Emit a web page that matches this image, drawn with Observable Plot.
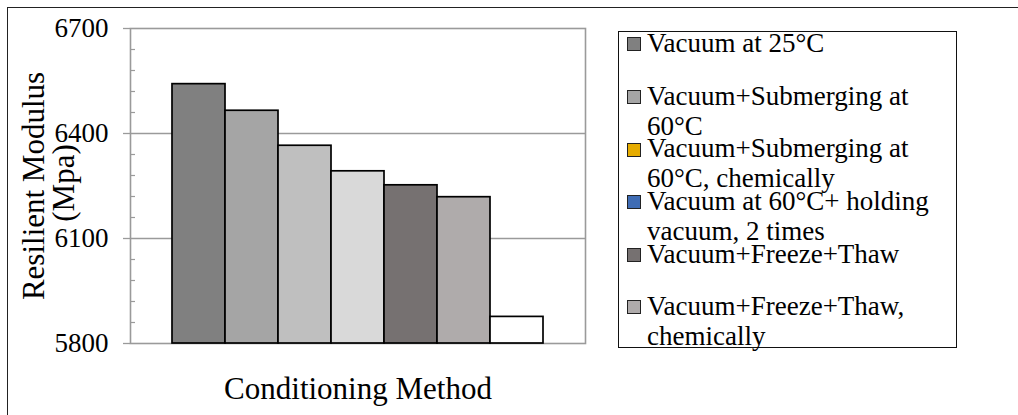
<!DOCTYPE html>
<html>
<head>
<meta charset="utf-8">
<script src="https://cdn.jsdelivr.net/npm/d3@7"></script>
<script src="https://cdn.jsdelivr.net/npm/@observablehq/plot@0.6"></script>
<style>
  html, body { margin: 0; padding: 0; background: #fff; }
  #wrap { position: relative; width: 1018px; height: 415px; overflow: hidden; font-family: "Liberation Serif", "Times New Roman", serif; }
  #outer { position: absolute; left: 7px; top: 7px; width: 1030px; height: 430px; border-top: 1.5px solid #222; border-left: 1.5px solid #222; box-sizing: border-box; pointer-events: none; }
  #legend { position: absolute; left: 618px; top: 31px; width: 339px; height: 317px; border: 1.5px solid #111; box-sizing: border-box; }
  .item { position: absolute; left: 627px; width: 330px; }
  .sw { position: absolute; left: 0; width: 14px; height: 14px; border: 1.5px solid #222; box-sizing: border-box; }
  .lbl { position: absolute; left: 20px; width: 300px; font-size: 27px; line-height: 30px; color: #000; white-space: normal; }
</style>
</head>
<body>
<div id="wrap">
  <div id="chart"></div>
  <div id="outer"></div>
  <div id="legend"></div>
</div>
<script>
// ---- data ----
const methods = [
  "Vacuum at 25°C",
  "Vacuum+Submerging at 60°C",
  "Vacuum+Submerging at 60°C, chemically",
  "Vacuum at 60°C+ holding vacuum, 2 times",
  "Vacuum+Freeze+Thaw",
  "Vacuum+Freeze+Thaw, chemically",
  "Other"
];
const modulus = [6541, 6465, 6365, 6292, 6252, 6218, 5876];
const yTicks = [5800, 6100, 6400, 6700];
const yMinorTicks = [5860, 5920, 5980, 6040, 6160, 6220, 6280, 6340, 6460, 6520, 6580, 6640];
const legendLabels = [
  "Vacuum at 25°C",
  "Vacuum+Submerging at 60°C",
  "Vacuum+Submerging at 60°C, chemically",
  "Vacuum at 60°C+ holding vacuum, 2 times",
  "Vacuum+Freeze+Thaw",
  "Vacuum+Freeze+Thaw, chemically"
];
const yTitleLines = ["Resilient Modulus", "(Mpa)"];
const xTitle = "Conditioning Method";

// ---- styles ----
const barColors = ["#808080", "#a5a5a5", "#bfbfbf", "#d9d9d9", "#767171", "#afabab", "#ffffff"];
const legendColors = ["#808080", "#a5a5a5", "#e6ac00", "#3f6cb4", "#767171", "#afabab"];

const data = methods.map((m, i) => ({method: m, value: modulus[i]}));

const chart = Plot.plot({
  width: 1018,
  height: 415,
  marginLeft: 130,
  marginRight: 433,
  marginTop: 28,
  marginBottom: 72,
  style: {fontFamily: "'Liberation Serif', 'Times New Roman', serif", fontSize: "27px", color: "#000", background: "transparent", overflow: "visible"},
  x: {domain: methods, paddingInner: 0, paddingOuter: 0.75, axis: null},
  y: {domain: [5800, 6700], axis: null},
  color: {domain: methods, range: barColors},
  marks: [
    Plot.gridY([6100, 6400], {stroke: "#9a9a9a", strokeOpacity: 1, strokeWidth: 1.3}),
    Plot.frame({stroke: "#9a9a9a", strokeWidth: 1.6}),
    Plot.barY(data, {x: "method", y1: 5800, y2: "value", fill: "method", stroke: "#000", strokeWidth: 1.7}),
    Plot.axisY(yTicks, {anchor: "left", tickSize: 7, tickPadding: 15, stroke: "#9a9a9a", strokeWidth: 1.3, fill: "#000", fontSize: 27, label: null, tickFormat: d => String(d)}),
    Plot.axisY(yMinorTicks, {anchor: "left", tickSize: 5, dx: 5, stroke: "#9a9a9a", strokeWidth: 1.2, tickFormat: () => "", label: null}),
    Plot.text([yTitleLines[0]], {frameAnchor: "left", textAnchor: "middle", text: d => d, rotate: -90, dx: -87, lineAnchor: "bottom", fontSize: 31, fill: "#000"}),
    Plot.text([yTitleLines[1]], {frameAnchor: "left", textAnchor: "middle", text: d => d, rotate: -90, dx: -57, dy: -3, lineAnchor: "bottom", fontSize: 31, fill: "#000"}),
    Plot.text([xTitle], {frameAnchor: "bottom", textAnchor: "middle", text: d => d, lineAnchor: "bottom", dy: 55, fontSize: 31, fill: "#000"})
  ]
});
document.getElementById("chart").appendChild(chart);

// ---- legend ----
const wrap = document.getElementById("wrap");
legendLabels.forEach((label, i) => {
  const item = document.createElement("div");
  item.className = "item";
  item.style.top = (37.3 + i * 52.6) + "px";
  const sw = document.createElement("div");
  sw.className = "sw";
  sw.style.background = legendColors[i];
  const lbl = document.createElement("div");
  lbl.className = "lbl";
  lbl.style.top = "-9.1px";
  lbl.textContent = label;
  item.appendChild(sw);
  item.appendChild(lbl);
  wrap.appendChild(item);
});
</script>
</body>
</html>
